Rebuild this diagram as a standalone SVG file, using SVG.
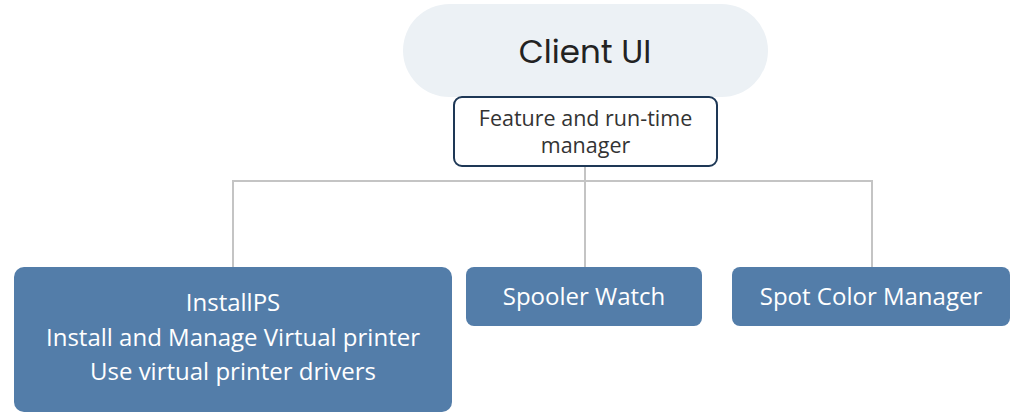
<svg xmlns="http://www.w3.org/2000/svg" width="1015" height="413" viewBox="0 0 1015 413">
<style>
.blue{fill:#537da9}
.wt{fill:#ffffff;font-family:"Open Sans","Noto Sans",sans-serif;font-size:24px;text-anchor:middle}
.conn{stroke:#c4c4c4;stroke-width:2;fill:none}
</style>
<rect width="1015" height="413" fill="#ffffff"/>
<g id="connectors">
<path class="conn" d="M585 166V267M233 267V181H872V267"/>
</g>
<g id="client-ui">
<rect x="403" y="4" width="365" height="93" rx="46.5" fill="#ecf1f5"/>
<text x="585" y="63" text-anchor="middle" font-family="Poppins,Inter,'Noto Sans',sans-serif" font-size="32.5" fill="#222222">Client UI</text>
</g>
<g id="feature-manager">
<rect x="454" y="97" width="263" height="69" rx="8" fill="#ffffff" stroke="#1e3856" stroke-width="2"/>
<text x="585.5" y="126" text-anchor="middle" font-family="'Open Sans','Noto Sans',sans-serif" font-size="21.5" fill="#333333">Feature and run-time</text>
<text x="585.5" y="153" text-anchor="middle" font-family="'Open Sans','Noto Sans',sans-serif" font-size="21.5" fill="#333333">manager</text>
</g>
<g id="installps">
<rect class="blue" x="14" y="267" width="438" height="145" rx="10"/>
<text class="wt" x="233" y="311">InstallPS</text>
<text class="wt" x="233" y="346">Install and Manage Virtual printer</text>
<text class="wt" x="233" y="380">Use virtual printer drivers</text>
</g>
<g id="spooler-watch">
<rect class="blue" x="466" y="267" width="236" height="59" rx="8"/>
<text class="wt" x="584" y="305">Spooler Watch</text>
</g>
<g id="spot-color-manager">
<rect class="blue" x="732" y="267" width="278" height="59" rx="8"/>
<text class="wt" x="871" y="305">Spot Color Manager</text>
</g>
</svg>
